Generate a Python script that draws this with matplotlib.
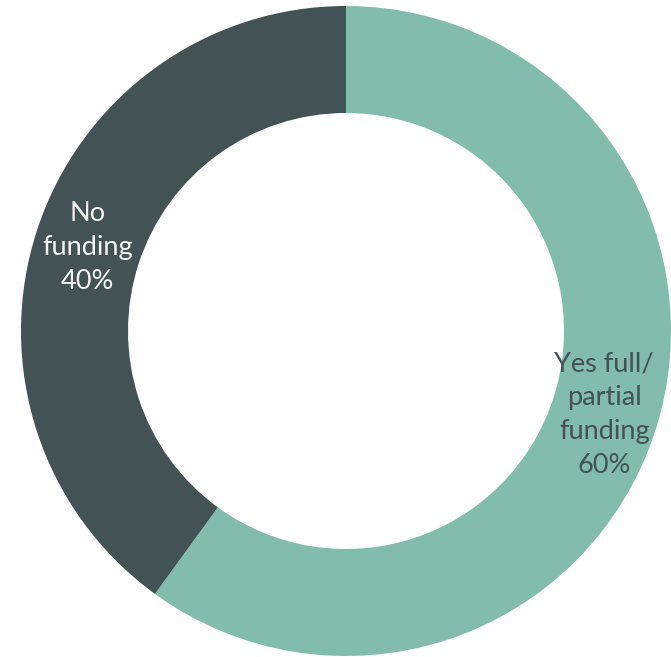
import matplotlib.pyplot as plt
import numpy as np

# Funding split
labels = ["Yes full/\npartial\nfunding", "No\nfunding"]
shares = [60, 40]
colors = ["#82bcad", "#435255"]
text_colors = ["#435255", "#f4f4f4"]

plt.rcParams['font.family'] = ['Lato', 'DejaVu Sans']

fig = plt.figure(figsize=(6.71, 6.57), dpi=100)
ax = fig.add_axes([0, 0, 1, 1])

radius = 325
ring = 107
wedges, _ = ax.pie(shares, colors=colors, startangle=90, counterclock=False,
                   radius=radius, wedgeprops=dict(width=ring, linewidth=0))

for w, lab, val, tc in zip(wedges, labels, shares, text_colors):
      ang = np.deg2rad((w.theta1 + w.theta2) / 2)
      r = radius - ring / 2
      ax.text(r * np.cos(ang), r * np.sin(ang), f"{lab}\n{val}%",
              ha="center", va="center", multialignment="center",
              fontsize=19.5, color=tc, linespacing=1.45)

ax.set_xlim(-346, 325)
ax.set_ylim(-326, 331)
ax.set_aspect("equal")
ax.axis("off")

fig.savefig("out.png", dpi=100)
